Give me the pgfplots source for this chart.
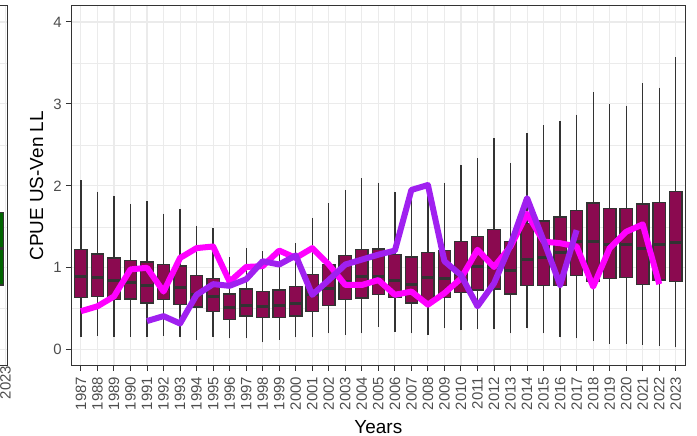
\documentclass[border=0pt]{standalone}
\usepackage{pgfplots}
\pgfplotsset{compat=1.18}
\usepgfplotslibrary{statistics}
\usepackage{fontspec}
\setmainfont{Liberation Sans}
\definecolor{boxfill}{HTML}{8B0A50}
\definecolor{grey20}{HTML}{333333}
\definecolor{grey30}{HTML}{4D4D4D}
\definecolor{grey92}{HTML}{EBEBEB}
\definecolor{mag}{HTML}{FF00FF}
\definecolor{purp}{HTML}{A020F0}
\definecolor{dgreen}{HTML}{006400}
\pgfplotsset{
  bx/.style={fill=boxfill, draw=grey20, line width=1.3bp, solid, mark=none,
    boxplot/box extend=0.75, boxplot/whisker extend=0},
  medstyle/.style={draw=none, mark=none, forget plot,
    error bars/x dir=both, error bars/x explicit=false,
    error bars/error mark=none,
    error bars/error bar style={grey20, line width=3bp, solid}},
  common/.style={
    scale only axis, height=359.7bp,
    ymin=-0.195, ymax=4.195,
    ytick={0,1,2,3,4}, minor ytick={0.5,1.5,2.5,3.5},
    xmajorgrids, ymajorgrids, yminorgrids,
    major grid style={grey92, line width=1.1bp},
    minor grid style={grey92, line width=0.55bp},
    axis line style={grey20, line width=1bp},
    tick style={grey20, line width=1bp},
    tick align=outside, major tick length=5bp, minor tick length=0pt,
    xtick pos=left, ytick pos=left,
    ticklabel style={font=\fontsize{15}{18}\selectfont, text=grey30},
    xticklabel style={rotate=90, anchor=east, inner sep=0pt},
    yticklabel style={anchor=east, inner sep=0pt},
    xticklabel shift=6bp, yticklabel shift=4bp,
    /pgf/number format/assume math mode=true,
    boxplot/draw direction=y,
  }
}
\pgfplotstableread{
i v
0 0.47
1 0.53
2 0.65
3 0.98
4 1.00
5 0.71
6 1.12
7 1.24
8 1.26
9 0.83
10 1.01
11 1.02
12 1.21
13 1.12
14 1.24
15 1.04
16 0.79
17 0.79
18 0.85
19 0.67
20 0.71
21 0.55
22 0.69
23 0.87
24 1.22
25 1.01
26 1.26
27 1.66
28 1.32
29 1.30
30 1.26
31 0.77
32 1.24
33 1.44
34 1.53
35 0.80
}\magdata
\pgfplotstableread{
i v
4 0.35
5 0.41
6 0.32
7 0.67
8 0.80
9 0.78
10 0.86
11 1.08
12 1.04
13 1.15
14 0.67
15 0.85
16 1.04
17 1.10
18 1.16
19 1.21
20 1.95
21 2.01
22 1.08
23 0.91
24 0.53
25 0.81
26 1.28
27 1.85
28 1.33
29 0.79
30 1.46
}\purdata
\pgfplotstableread{
i med
0 0.89
1 0.88
2 0.85
3 0.82
4 0.78
5 0.75
6 0.76
7 0.68
8 0.65
9 0.51
10 0.54
11 0.53
12 0.54
13 0.57
14 0.67
15 0.75
16 0.83
17 0.89
18 0.89
19 0.85
20 0.80
21 0.88
22 0.87
23 0.92
24 1.02
25 1.00
26 0.97
27 1.10
28 1.13
29 1.19
30 1.32
31 1.32
32 1.29
33 1.28
34 1.24
35 1.28
36 1.31
}\meddata
\newcommand{\bxp}[6]{\addplot[bx, boxplot prepared={draw position=#1, lower whisker=#2, lower quartile=#3, median=#4, upper quartile=#5, upper whisker=#6}] coordinates {};}
\begin{document}
\begin{tikzpicture}
% partial left panel (cut by the picture edge)
\begin{axis}[common, at={(7.3bp,70.3bp)}, anchor=south east, width=60bp,
  xmin=-52.7, xmax=7.3, xtick={5.4}, xticklabels={2023}, yticklabels={},
  xticklabel shift=0bp, major tick length=0bp]
\addplot[fill=dgreen, draw=grey20, line width=1.2bp, mark=none,
  boxplot/box extend=23.4, boxplot/whisker extend=0,
  boxplot prepared={draw position=-8, lower whisker=0.3, lower quartile=0.79, median=1.24, upper quartile=1.67, upper whisker=2.5}] coordinates {};
\addplot[medstyle, error bars/x fixed=11.7] coordinates {(-8,1.24)};
\end{axis}
% main panel
\begin{axis}[common, at={(71bp,70.3bp)}, anchor=south west, width=614.7bp,
  xmin=-0.6, xmax=36.6, xtick={0,...,36},
  xticklabel={\pgfmathtruncatemacro\yr{\tick+1987}\yr},
  yticklabel={\pgfmathtruncatemacro\yv{\tick}\yv},
  xlabel={Years}, ylabel={CPUE US-Ven LL},
  xlabel style={at={(rel axis cs:0.5,-0.1704)}, anchor=center, inner sep=0pt, font=\fontsize{19}{22}\selectfont},
  ylabel style={at={(rel axis cs:-0.0558,0.5)}, anchor=center, inner sep=0pt, font=\fontsize{19}{22}\selectfont},
]
\bxp{0}{0.16}{0.64}{0.89}{1.22}{2.07}
\bxp{1}{0.17}{0.65}{0.88}{1.17}{1.93}
\bxp{2}{0.16}{0.61}{0.85}{1.12}{1.88}
\bxp{3}{0.16}{0.62}{0.82}{1.09}{1.78}
\bxp{4}{0.16}{0.57}{0.78}{1.07}{1.81}
\bxp{5}{0.17}{0.61}{0.75}{1.04}{1.66}
\bxp{6}{0.16}{0.55}{0.76}{1.02}{1.72}
\bxp{7}{0.12}{0.52}{0.68}{0.91}{1.51}
\bxp{8}{0.16}{0.47}{0.65}{0.87}{1.48}
\bxp{9}{0.14}{0.37}{0.51}{0.68}{1.13}
\bxp{10}{0.14}{0.41}{0.54}{0.74}{1.24}
\bxp{11}{0.09}{0.39}{0.53}{0.71}{1.20}
\bxp{12}{0.12}{0.39}{0.54}{0.73}{1.22}
\bxp{13}{0.15}{0.41}{0.57}{0.77}{1.30}
\bxp{14}{0.16}{0.47}{0.67}{0.92}{1.61}
\bxp{15}{0.20}{0.54}{0.75}{1.04}{1.79}
\bxp{16}{0.18}{0.61}{0.83}{1.15}{1.95}
\bxp{17}{0.20}{0.63}{0.89}{1.22}{2.09}
\bxp{18}{0.28}{0.67}{0.89}{1.23}{2.04}
\bxp{19}{0.22}{0.64}{0.85}{1.16}{1.92}
\bxp{20}{0.20}{0.57}{0.80}{1.13}{1.95}
\bxp{21}{0.18}{0.59}{0.88}{1.19}{1.98}
\bxp{22}{0.26}{0.64}{0.87}{1.21}{2.04}
\bxp{23}{0.24}{0.70}{0.92}{1.32}{2.26}
\bxp{24}{0.25}{0.73}{1.02}{1.38}{2.34}
\bxp{25}{0.25}{0.74}{1.00}{1.47}{2.58}
\bxp{26}{0.20}{0.68}{0.97}{1.32}{2.28}
\bxp{27}{0.26}{0.78}{1.10}{1.54}{2.64}
\bxp{28}{0.20}{0.78}{1.13}{1.57}{2.74}
\bxp{29}{0.15}{0.78}{1.19}{1.62}{2.79}
\bxp{30}{0.14}{0.91}{1.32}{1.70}{2.87}
\bxp{31}{0.11}{0.83}{1.32}{1.79}{3.14}
\bxp{32}{0.07}{0.87}{1.29}{1.72}{3.00}
\bxp{33}{0.07}{0.88}{1.28}{1.72}{2.98}
\bxp{34}{0.06}{0.80}{1.24}{1.78}{3.25}
\bxp{35}{0.05}{0.85}{1.28}{1.80}{3.20}
\bxp{36}{0.03}{0.83}{1.31}{1.93}{3.57}
\addplot[medstyle, error bars/x fixed=0.36] table[x=i, y=med] {\meddata};
\addplot[mag, line width=6bp, line join=round, mark=none] table[x=i, y=v] {\magdata};
\addplot[purp, line width=6bp, line join=round, mark=none] table[x=i, y=v] {\purdata};
\end{axis}
\pgfresetboundingbox
\useasboundingbox (0bp,0bp) rectangle (697bp,436bp);
\end{tikzpicture}
\end{document}
